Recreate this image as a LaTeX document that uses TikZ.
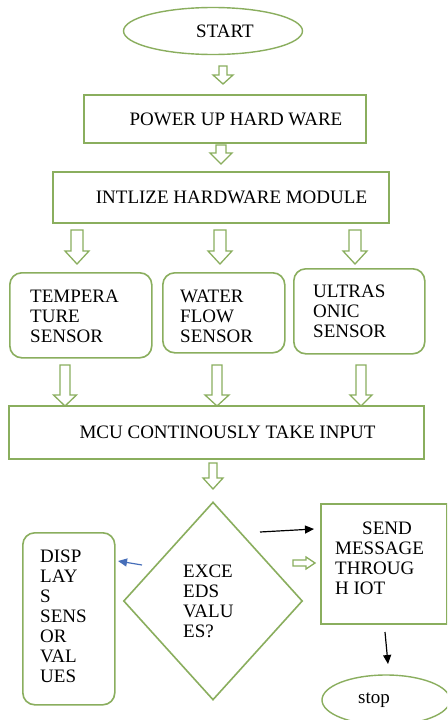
\documentclass[tikz,border=0pt]{standalone}
\usepackage{fontspec}
\setmainfont{Liberation Serif}
\usetikzlibrary{shapes.geometric,arrows.meta}
\definecolor{gline}{RGB}{138,174,94}
\definecolor{barrow}{RGB}{70,110,185}
\newcommand\hdown[6]{\draw[harrow] (#1-#5,#2) -- (#1+#5,#2) -- (#1+#5,#3) -- (#1+#6,#3) -- (#1,#4) -- (#1-#6,#3) -- (#1-#5,#3) -- cycle;}
\tikzset{
  box/.style={draw=gline, line width=1.6pt, rectangle, inner sep=0pt, font=\fontsize{19}{20}\selectfont},
  rbox/.style={box, rounded corners=12pt, align=left, anchor=north west},
  oval/.style={draw=gline, line width=1.4pt, ellipse, inner sep=0pt, font=\fontsize{19}{20}\selectfont},
  harrow/.style={draw=gline, line width=1.3pt, fill=white, line join=miter},
  thinarrow/.style={line width=1.2pt, -{Triangle[length=9pt,width=8pt]}},
}
\begin{document}
\begin{tikzpicture}[x=1pt,y=-1pt]
\clip (0,0) rectangle (447,720);
\fill[white] (0,0) rectangle (447,720);

\node[oval, minimum width=179pt, minimum height=47pt] (start) at (213,31) {\hspace*{24pt}START};
\node[box, minimum width=282pt, minimum height=48pt] (power) at (225,119) {\hspace*{22pt}POWER UP HARD WARE};
\node[box, minimum width=336pt, minimum height=51pt] (init) at (221,197.5) {\hspace*{21pt}INTLIZE HARDWARE MODULE};

\node[rbox, minimum width=134pt, minimum height=85pt, text width=100pt, inner xsep=21pt] (temp) at (9,272) {};
\node[font=\fontsize{19}{20}\selectfont, align=left, anchor=north west, inner sep=0pt] (temptxt) at (30,290) {TEMPERA\\TURE\\SENSOR};
\node[rbox, minimum width=122pt, minimum height=80pt] (water) at (162,272) {};
\node[font=\fontsize{19}{20}\selectfont, align=left, anchor=north west, inner sep=0pt] (watertxt) at (180,290) {WATER\\FLOW\\SENSOR};
\node[rbox, minimum width=131pt, minimum height=85pt] (ultra) at (293,268) {};
\node[font=\fontsize{19}{20}\selectfont, align=left, anchor=north west, inner sep=0pt] (ultratxt) at (313,285) {ULTRAS\\ONIC\\SENSOR};

\node[box, minimum width=415pt, minimum height=53pt] (mcu) at (216.5,432.5) {\hspace*{22pt}MCU CONTINOUSLY TAKE INPUT};

\node[draw=gline, line width=1.6pt, diamond, minimum width=179pt, minimum height=198pt, inner sep=0pt] (dec) at (213,601) {};
\node[font=\fontsize{19}{20}\selectfont, align=left, anchor=north west, inner sep=0pt] (dectxt) at (183,565) {EXCE\\EDS\\VALU\\ES?};

\node[rbox, minimum width=92pt, minimum height=172pt] (disp) at (22,532) {};
\node[font=\fontsize{19}{20}\selectfont, align=left, anchor=north west, inner sep=0pt] (disptxt) at (40,550) {DISP\\LAY\\S\\SENS\\OR\\VAL\\UES};

\node[box, minimum width=126pt, minimum height=120pt, anchor=north west] (send) at (320,503) {};
\node[font=\fontsize{19}{20}\selectfont, align=left, anchor=north west, inner sep=0pt] (sendtxt) at (335,522) {\hspace*{27pt}SEND\\MESSAGE\\THROUG\\H IOT};

\node[oval, minimum width=128pt, minimum height=50pt] (stop) at (386,700) {\hspace*{-24pt}stop};

% hollow arrows
\hdown{223}{66}{75}{84}{4}{10}
\hdown{221}{145}{153}{164}{5}{11}
\hdown{77}{230}{251}{264}{6}{12}
\hdown{220}{230}{251}{264}{6}{12}
\hdown{355}{230}{251}{264}{6}{12}
\hdown{65}{365}{395}{406}{5}{11.5}
\hdown{217}{365}{395}{406}{5}{12}
\hdown{361}{365}{395}{406}{5}{11}
\hdown{213}{463}{478}{489}{4}{10}
\draw[harrow] (293,560) -- (306,560) -- (306,557) -- (315,563) -- (306,569) -- (306,566) -- (293,566) -- cycle;

% thin arrows
\coordinate (b1) at (142,565);
\coordinate (b2) at (118,561);
\draw[thinarrow, barrow] (b1) -- (b2);
\coordinate (k1) at (260,532);
\coordinate (k2) at (314,529);
\draw[thinarrow] (k1) -- (k2);
\coordinate (k3) at (385,632);
\coordinate (k4) at (388,664);
\draw[thinarrow] (k3) -- (k4);
\end{tikzpicture}
\end{document}
